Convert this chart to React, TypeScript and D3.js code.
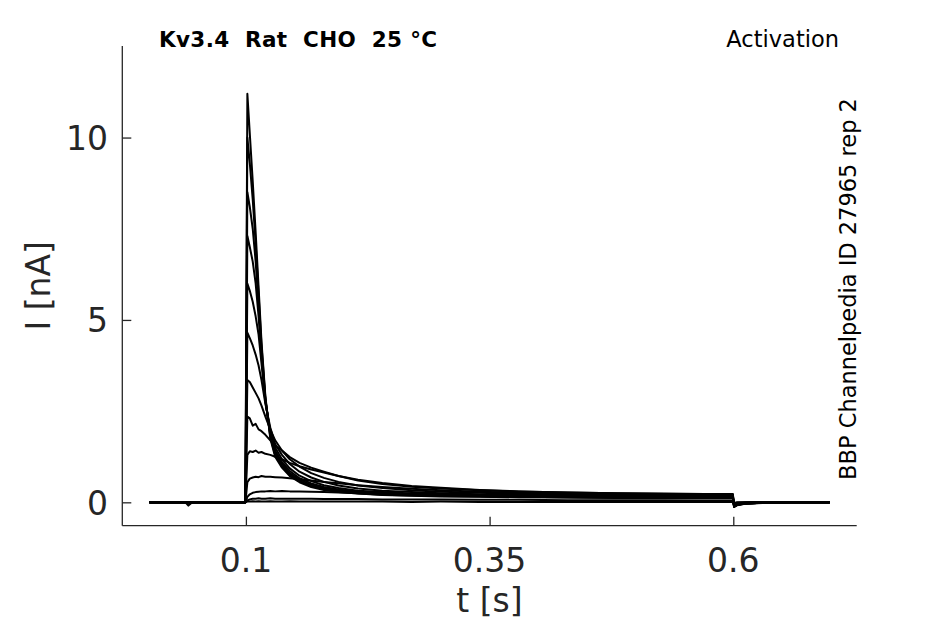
import { useEffect, useRef } from "react"
import * as d3 from "d3"

// sample times [s], shared by all sweeps
const times = [
  0.001, 0.038, 0.041, 0.045, 0.0995, 0.1015, 0.104, 0.107, 0.11, 0.113, 0.116, 0.12, 0.125,
  0.13, 0.137, 0.145, 0.155, 0.167, 0.18, 0.195, 0.215, 0.24, 0.27, 0.3, 0.34, 0.38, 0.43,
  0.48, 0.53, 0.57, 0.5995, 0.6008, 0.604, 0.612, 0.63, 0.66, 0.699,
]

// current [nA] per voltage step
const sweeps: number[][] = [
  [0, 0.01, 0, 0, 0, 11.2, 10.1, 8.8, 7.4, 5.9, 4.4, 2.9, 1.75, 1.25, 0.95, 0.72, 0.55, 0.42, 0.34, 0.28, 0.24, 0.2, 0.18, 0.16, 0.15, 0.14, 0.13, 0.12, 0.12, 0.11, 0.11, -0.13, -0.08, -0.04, -0.02, 0, 0],
  [0, 0, 0.01, 0, 0, 10.0, 9.3, 8.3, 7.1, 5.7, 4.3, 2.85, 1.8, 1.3, 1.0, 0.76, 0.58, 0.45, 0.36, 0.3, 0.25, 0.21, 0.19, 0.17, 0.16, 0.15, 0.14, 0.13, 0.13, 0.12, 0.12, -0.12, -0.07, -0.04, -0.01, 0, 0],
  [0, 0, 0, 0.01, 0, 8.5, 8.1, 7.5, 6.6, 5.4, 4.15, 2.8, 1.85, 1.35, 1.05, 0.8, 0.62, 0.48, 0.39, 0.32, 0.27, 0.23, 0.2, 0.18, 0.17, 0.16, 0.15, 0.15, 0.14, 0.13, 0.13, -0.12, -0.07, -0.03, -0.01, 0, 0],
  [0, 0.01, 0, 0, 0, 7.3, 7.0, 6.6, 6.0, 5.1, 4.0, 2.8, 1.9, 1.42, 1.1, 0.86, 0.66, 0.52, 0.42, 0.35, 0.29, 0.25, 0.22, 0.2, 0.18, 0.17, 0.16, 0.16, 0.15, 0.14, 0.14, -0.11, -0.07, -0.03, -0.01, 0, 0],
  [0, 0, 0, 0, 0, 6.0, 5.8, 5.5, 5.1, 4.6, 3.8, 2.75, 1.95, 1.5, 1.18, 0.93, 0.73, 0.58, 0.47, 0.39, 0.32, 0.28, 0.24, 0.22, 0.2, 0.18, 0.18, 0.16, 0.16, 0.15, 0.15, -0.11, -0.06, -0.03, -0.01, 0, 0],
  [0, 0, 0, 0.01, 0, 4.65, 4.5, 4.3, 4.05, 3.75, 3.35, 2.7, 2.05, 1.6, 1.3, 1.05, 0.84, 0.68, 0.56, 0.46, 0.38, 0.32, 0.28, 0.25, 0.22, 0.21, 0.19, 0.18, 0.17, 0.17, 0.16, -0.1, -0.06, -0.03, -0.01, 0, 0],
  [0, 0, 0, 0, 0, 3.35, 3.3, 3.15, 3.0, 2.85, 2.65, 2.35, 2.0, 1.7, 1.42, 1.18, 0.98, 0.8, 0.67, 0.56, 0.46, 0.39, 0.33, 0.29, 0.26, 0.23, 0.22, 0.2, 0.19, 0.18, 0.18, -0.1, -0.05, -0.02, 0, 0, 0],
  [0, 0, 0, 0, 0, 2.35, 2.3, 2.1, 2.15, 2.0, 1.95, 1.85, 1.7, 1.55, 1.42, 1.24, 1.08, 0.95, 0.84, 0.72, 0.6, 0.5, 0.43, 0.38, 0.33, 0.3, 0.27, 0.25, 0.24, 0.23, 0.23, -0.09, -0.05, -0.02, 0, 0, 0],
  [0, 0, 0, 0, 0, 1.3, 1.4, 1.38, 1.42, 1.36, 1.38, 1.33, 1.3, 1.25, 1.18, 1.08, 0.99, 0.9, 0.82, 0.72, 0.62, 0.53, 0.45, 0.4, 0.34, 0.3, 0.27, 0.25, 0.23, 0.22, 0.22, -0.08, -0.04, -0.02, 0, 0, 0],
  [0, 0, 0, 0, 0, 0.55, 0.65, 0.68, 0.7, 0.69, 0.72, 0.7, 0.7, 0.69, 0.68, 0.66, 0.63, 0.6, 0.56, 0.52, 0.47, 0.42, 0.37, 0.33, 0.29, 0.26, 0.23, 0.21, 0.2, 0.19, 0.19, -0.06, -0.03, -0.01, 0, 0, 0],
  [0, 0, 0, 0, 0, 0.15, 0.22, 0.26, 0.28, 0.29, 0.3, 0.3, 0.31, 0.3, 0.31, 0.3, 0.3, 0.29, 0.28, 0.27, 0.25, 0.23, 0.21, 0.19, 0.17, 0.15, 0.14, 0.13, 0.12, 0.12, 0.12, -0.05, -0.02, -0.01, 0, 0, 0],
  [0, 0, 0, 0, 0, 0.05, 0.08, 0.1, 0.1, 0.11, 0.1, 0.1, 0.11, 0.1, 0.1, 0.1, 0.1, 0.1, 0.09, 0.09, 0.09, 0.08, 0.08, 0.08, 0.07, 0.07, 0.06, 0.06, 0.06, 0.05, 0.05, -0.03, -0.01, 0, 0, 0, 0],
  [0, 0, -0.09, 0, 0, 0.02, 0.02, 0.03, 0.02, 0.03, 0.02, 0.02, 0.03, 0.02, 0.02, 0.03, 0.02, 0.02, 0.02, 0.02, 0.02, 0.02, 0.01, 0.02, 0.01, 0.01, 0.01, 0.01, 0.01, 0.01, 0.01, -0.02, 0, 0, 0, 0, 0],
]

const xTicks = [0.1, 0.35, 0.6]
const yTicks = [0, 5, 10]
const title = "Kv3.4  Rat  CHO  25 °C"
const protocol = "Activation"
const source = "BBP Channelpedia ID 27965 rep 2"

const W = 945
const H = 624
const axisColor = "#262626"
const font = "DejaVu Sans, sans-serif"

function TraceChart() {
  const ref = useRef<SVGSVGElement>(null)

  useEffect(() => {
    if (!ref.current) return
    const svg = d3.select(ref.current)
    svg.selectAll("*").remove()

    const left = 122.3
    const right = 856.7
    const top = 46
    const bottom = 525.7

    const x = d3.scaleLinear().domain([-0.0268, 0.7266]).range([left, right])
    const y = d3.scaleLinear().domain([-0.641, 12.51]).range([bottom, top])

    // traces
    const line = d3
      .line<number>()
      .x((_, i) => x(times[i]))
      .y((d) => y(d))

    svg
      .append("g")
      .selectAll("path")
      .data(sweeps)
      .join("path")
      .attr("fill", "none")
      .attr("stroke", "#000")
      .attr("stroke-width", 2)
      .attr("stroke-linejoin", "round")
      .attr("d", (d) => line(d))

    // y axis
    const gy = svg
      .append("g")
      .attr("transform", `translate(${left},0)`)
      .call(d3.axisRight(y).tickValues(yTicks).tickSize(9).tickFormat(() => ""))
    gy.select(".domain").attr("stroke", axisColor).attr("stroke-width", 1.3).attr("d", `M0,${top}V${bottom}`)
    gy.selectAll(".tick line").attr("stroke", axisColor).attr("stroke-width", 1.3)

    svg
      .append("g")
      .selectAll("text")
      .data(yTicks)
      .join("text")
      .attr("x", 108)
      .attr("y", (d) => y(d) + 12.5)
      .attr("text-anchor", "end")
      .attr("font-family", font)
      .attr("font-size", 33)
      .attr("fill", axisColor)
      .text((d) => d3.format("d")(d))

    // x axis
    const gx = svg
      .append("g")
      .attr("transform", `translate(0,${bottom})`)
      .call(d3.axisTop(x).tickValues(xTicks).tickSize(9).tickFormat(() => ""))
    gx.select(".domain").attr("stroke", axisColor).attr("stroke-width", 1.3).attr("d", `M${left},0H${right}`)
    gx.selectAll(".tick line").attr("stroke", axisColor).attr("stroke-width", 1.3)

    svg
      .append("g")
      .selectAll("text")
      .data(xTicks)
      .join("text")
      .attr("x", (d) => x(d))
      .attr("y", 572)
      .attr("text-anchor", "middle")
      .attr("font-family", font)
      .attr("font-size", 33)
      .attr("fill", axisColor)
      .text((d) => String(d))

    // axis labels
    svg
      .append("text")
      .attr("x", (left + right) / 2)
      .attr("y", 612)
      .attr("text-anchor", "middle")
      .attr("font-family", font)
      .attr("font-size", 33)
      .attr("fill", axisColor)
      .text("t [s]")

    svg
      .append("text")
      .attr("transform", `translate(50,${(top + bottom) / 2}) rotate(-90)`)
      .attr("text-anchor", "middle")
      .attr("font-family", font)
      .attr("font-size", 33)
      .attr("fill", axisColor)
      .text("I [nA]")

    // annotations
    svg
      .append("text")
      .attr("x", 159)
      .attr("y", 46.5)
      .attr("font-family", font)
      .attr("font-weight", "bold")
      .attr("font-size", 21.5)
      .attr("textLength", 278)
      .attr("lengthAdjust", "spacing")
      .attr("fill", "#000")
      .style("white-space", "pre")
      .text(title)

    svg
      .append("text")
      .attr("x", 839)
      .attr("y", 46.5)
      .attr("text-anchor", "end")
      .attr("font-family", font)
      .attr("font-size", 22.5)
      .attr("fill", "#000")
      .text(protocol)

    svg
      .append("text")
      .attr("transform", `translate(856,289) rotate(-90)`)
      .attr("text-anchor", "middle")
      .attr("font-family", font)
      .attr("font-size", 22.5)
      .attr("fill", "#000")
      .text(source)
  }, [])

  return (
    <svg
      ref={ref}
      width={W}
      height={H}
      viewBox={`0 0 ${W} ${H}`}
      style={{ position: "absolute", left: 0, top: 0, background: "#fff" }}
    />
  )
}

export default function App() {
  return <TraceChart />
}
